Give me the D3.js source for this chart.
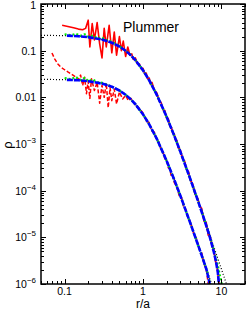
<!DOCTYPE html>
<html>
<head>
<meta charset="utf-8">
<script src="https://cdn.jsdelivr.net/npm/d3@7"></script>
<style>
  body { margin: 0; background: #fff; }
  text { font-family: "Liberation Sans", Arial, sans-serif; }
</style>
</head>
<body>
<div id="chart"></div>
<script>
// density profiles, [r/a, rho]
const redUpper = [[0.093,0.35],[0.11,0.33],[0.13,0.31],[0.15,0.29],[0.17,0.28],[0.185,0.30],[0.2,0.45],[0.21,0.12],
  [0.225,0.38],[0.24,0.17],[0.26,0.40],[0.28,0.14],[0.3,0.07],[0.32,0.30],[0.34,0.12],[0.37,0.35],[0.4,0.09],
  [0.43,0.25],[0.46,0.08],[0.5,0.20],[0.53,0.10],[0.56,0.16],[0.6,0.075],[0.64,0.12],[0.68,0.08],[0.72,0.085],
  [0.75,0.065],[0.8,0.07],[0.85,0.052],[0.9,0.052],[0.95,0.041],[1.0,0.042],[1.05,0.032],[1.1,0.033],[1.15,0.025],
  [1.2,0.026],[1.25,0.019],[1.3,0.021],[1.4,0.014],[1.5,0.0125],[1.6,0.0085],[1.7,0.0078],[1.8,0.0054],[1.9,0.0052],
  [2.0,0.0036],[2.1,0.0035],[2.2,0.0024],[2.3,0.0023],[2.4,0.0017],[2.5,0.00165],[2.6,0.00122],[2.7,0.0012],
  [2.8,0.00085],[3.0,0.00074],[3.2,0.00048],[3.4,0.00043],[3.6,0.00028],[3.8,0.00026],[4.0,0.00017],[4.3,0.00014],
  [4.6,0.000085],[5.0,0.000068],[5.3,0.000046],[5.6,0.000042],[6.0,0.000022],[6.4,0.000021],[6.8,0.000011],
  [7.2,0.0000105],[7.6,0.0000065],[8.0,0.0000054],[8.4,0.0000031],[8.8,0.0000024],[9.2,0.0000012],[9.4,0.000001]];

const redLower = [[0.069,0.089],[0.075,0.066],[0.082,0.052],[0.09,0.044],[0.1,0.039],[0.11,0.035],[0.12,0.032],
  [0.135,0.028],[0.15,0.024],[0.16,0.03],[0.17,0.018],[0.18,0.027],[0.19,0.012],[0.2,0.022],[0.21,0.0095],
  [0.22,0.025],[0.24,0.014],[0.26,0.021],[0.28,0.0075],[0.3,0.018],[0.32,0.01],[0.34,0.02],[0.36,0.006],
  [0.38,0.016],[0.4,0.0085],[0.43,0.015],[0.46,0.0072],[0.5,0.013],[0.55,0.0092],[0.6,0.011],[0.65,0.0085],
  [0.7,0.0095],[0.8,0.0068],[0.9,0.0058],[1.0,0.0046],[1.1,0.0031],[1.2,0.0029],[1.3,0.0019],[1.4,0.0018],
  [1.5,0.0012],[1.6,0.0011],[1.7,0.00075],[1.8,0.00068],[1.9,0.00048],[2.0,0.00047],[2.1,0.00031],[2.2,0.00029],
  [2.3,0.0002],[2.4,0.00021],[2.5,0.00015],[2.7,0.00012],[2.9,0.000078],[3.1,0.000072],[3.3,0.000045],
  [3.5,0.00004],[3.8,0.000024],[4.0,0.000022],[4.4,0.0000125],[4.8,0.0000095],[5.2,0.0000058],[5.6,0.0000047],
  [6.0,0.0000027],[6.4,0.0000021],[6.8,0.000001]];

const greenUpper = [[0.1,0.225],[0.12,0.215],[0.14,0.23],[0.16,0.21],[0.18,0.225],[0.2,0.2],[0.23,0.21],[0.26,0.185],
  [0.3,0.19],[0.35,0.165],[0.4,0.155],[0.5,0.125],[0.6,0.1],[0.7,0.08],[0.8,0.063],[1,0.038],[1.2,0.0232],
  [1.5,0.0113],[2,0.00385],[2.5,0.00152],[3,0.00068],[4,0.00018],[5,0.000062],[6,0.0000255],[7,0.0000117],
  [8,0.0000053],[9,0.0000025],[9.5,0.0000016],[10.1,0.000001]];

const greenLower = [[0.1,0.026],[0.12,0.0245],[0.14,0.027],[0.16,0.0235],[0.18,0.026],[0.2,0.0225],[0.23,0.024],
  [0.26,0.021],[0.3,0.0205],[0.35,0.0185],[0.4,0.017],[0.5,0.014],[0.6,0.0114],[0.7,0.009],[0.8,0.0071],
  [1,0.00433],[1.2,0.00264],[1.5,0.00129],[2,0.000438],[2.5,0.000173],[3,0.0000775],[4,0.0000205],
  [5,0.0000071],[6,0.000003],[6.5,0.000002],[7.2,0.000001]];

const blueUpper = [[0.107,0.21],[0.15,0.204],[0.2,0.195],[0.3,0.173],[0.4,0.148],[0.5,0.123],[0.6,0.0996],
  [0.7,0.0793],[0.8,0.0624],[1,0.038],[1.2,0.0231],[1.5,0.0113],[2,0.00385],[2.5,0.00152],[3,0.00068],
  [4,0.00018],[5,0.000062],[6,0.000025],[7,0.0000112],[8,0.0000049],[8.5,0.0000031],[9,0.0000018],[9.3,0.000001]];

const blueLower = [[0.107,0.0237],[0.15,0.0232],[0.2,0.0222],[0.3,0.0197],[0.4,0.0169],[0.5,0.014],[0.6,0.01135],
  [0.7,0.00904],[0.8,0.00711],[1,0.00433],[1.2,0.00264],[1.5,0.00129],[2,0.000438],[2.5,0.000173],
  [3,0.0000775],[4,0.0000205],[5,0.0000071],[6,0.00000295],[6.5,0.00000195],[7.1,0.000001]];

// analytic profiles (black dotted)
const modelUpper = [[0.05,0.2137],[0.1,0.2097],[0.15,0.2034],[0.2,0.1949],[0.3,0.1733],[0.4,0.1483],[0.5,0.1231],
  [0.6,0.0996],[0.7,0.0793],[0.8,0.0624],[1,0.038],[1.2,0.0231],[1.5,0.0113],[2,0.00385],[2.5,0.001517],
  [3,0.00068],[4,0.00018],[5,0.0000624],[6,0.0000259],[7,0.0000122],[8,0.00000628],[9,0.00000353],
  [10,0.0000021],[11,0.0000013],[12,0.00000085]];
const modelLower = [[0.05,0.02435],[0.1,0.0239],[0.15,0.0232],[0.2,0.0222],[0.3,0.0197],[0.4,0.0169],[0.5,0.014],
  [0.6,0.01135],[0.7,0.00904],[0.8,0.00711],[1,0.00433],[1.2,0.00264],[1.5,0.00129],[2,0.000438],
  [2.5,0.000173],[3,0.0000775],[4,0.0000205],[5,0.0000071],[6,0.00000295],[7,0.0000014],[7.6,0.00000095]];

const yTickValues = [1, 0.1, 0.01, 1e-3, 1e-4, 1e-5, 1e-6];
const yTickLabels = ["1", "0.1", "0.01", ["10", "\u22123"], ["10", "\u22124"], ["10", "\u22125"], ["10", "\u22126"]];
const xTickValues = [0.1, 1, 10];
const xTickLabels = ["0.1", "1", "10"];

const width = 249, height = 312;
const m = {left: 41, right: 245, top: 4, bottom: 284};

const svg = d3.select("#chart").append("svg")
    .attr("width", width)
    .attr("height", height);

const x = d3.scaleLog().domain([0.05, 20]).range([m.left, m.right]);
const y = d3.scaleLog().domain([1e-6, 1]).range([m.bottom, m.top]);

svg.append("clipPath").attr("id", "clip")
  .append("rect")
    .attr("x", m.left).attr("y", m.top)
    .attr("width", m.right - m.left).attr("height", m.bottom - m.top);

const line = d3.line().x(d => x(d[0])).y(d => y(d[1]));
const plot = svg.append("g").attr("clip-path", "url(#clip)");

function drawLine(data, color, w, dash) {
  plot.append("path")
    .datum(data)
    .attr("fill", "none")
    .attr("stroke", color)
    .attr("stroke-width", w)
    .attr("stroke-dasharray", dash)
    .attr("stroke-linejoin", "round")
    .attr("d", line);
}

drawLine(modelUpper, "#000", 1.2, "1,2");
drawLine(modelLower, "#000", 1.2, "1,2");
drawLine(redUpper, "#ff0000", 1.6, null);
drawLine(redLower, "#ff0000", 1.5, "4,2");
drawLine(greenUpper, "#00ee00", 2.2, "2,2");
drawLine(greenLower, "#00ee00", 2.2, "2,2");
drawLine(blueUpper, "#0000ff", 2.6, "6,1");
drawLine(blueLower, "#0000ff", 2.6, "6,1");

// axes: ticks on all four sides, pointing inward
const axes = svg.append("g");
const xAll = x.ticks(20);
const yAll = y.ticks(60);
const isMajor = v => Math.abs(Math.log10(v) - Math.round(Math.log10(v))) < 1e-6;

axes.selectAll(".xt").data(xAll).join("path")
  .attr("stroke", "#000").attr("stroke-width", 1)
  .attr("d", d => {
    const L = isMajor(d) ? 5 : 3, px = Math.round(x(d)) + 0.5;
    return `M${px},${m.bottom}v${-L}M${px},${m.top}v${L}`;
  });
axes.selectAll(".yt").data(yAll).join("path")
  .attr("stroke", "#000").attr("stroke-width", 1)
  .attr("d", d => {
    const L = isMajor(d) ? 5 : 3, py = Math.round(y(d)) + 0.5;
    return `M${m.left},${py}h${L}M${m.right},${py}h${-L}`;
  });

axes.append("rect")
  .attr("x", m.left).attr("y", m.top)
  .attr("width", m.right - m.left).attr("height", m.bottom - m.top)
  .attr("fill", "none").attr("stroke", "#000").attr("stroke-width", 1.5);

// tick labels
yTickValues.forEach((v, i) => {
  const lab = yTickLabels[i];
  const t = axes.append("text")
    .attr("x", 36).attr("y", Math.max(y(v) + 4, 9))
    .attr("text-anchor", "end")
    .attr("font-size", 10.5);
  if (Array.isArray(lab)) {
    t.append("tspan").text(lab[0]);
    t.append("tspan").attr("dy", -5).attr("font-size", 8).text(lab[1]);
  } else {
    t.text(lab);
  }
});

xTickValues.forEach((v, i) => {
  axes.append("text")
    .attr("x", x(v)).attr("y", 295)
    .attr("text-anchor", "middle")
    .attr("font-size", 10.5)
    .text(xTickLabels[i]);
});

svg.append("text")
  .attr("x", 143).attr("y", 308)
  .attr("text-anchor", "middle")
  .attr("font-size", 12)
  .text("r/a");

svg.append("text")
  .attr("transform", "translate(12,145) rotate(-90)")
  .attr("text-anchor", "middle")
  .attr("font-size", 13)
  .text("\u03c1");

svg.append("text")
  .attr("x", 123).attr("y", 32)
  .attr("font-size", 14)
  .text("Plummer");
</script>
</body>
</html>
